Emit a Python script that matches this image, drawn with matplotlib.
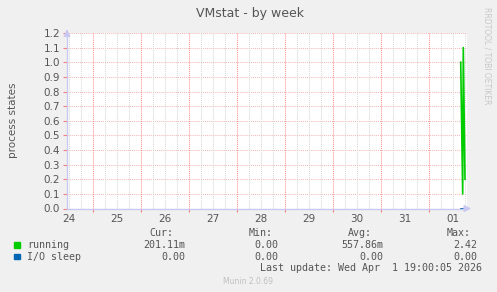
import matplotlib
matplotlib.use("Agg")
import matplotlib.pyplot as plt
import numpy as np

plt.rcParams["lines.scale_dashes"] = False

# donnees (heures depuis le 24 mars 00:00)
heures = [207.85, 208.85, 209.15, 210.0]
running = [1.0, 0.1, 1.1, 0.2]
io_sleep = [0.0, 0.0, 0.0, 0.0]
jours = ["24", "25", "26", "27", "28", "29", "30", "31", "01"]
yticks = [0.0, 0.1, 0.2, 0.3, 0.4, 0.5, 0.6, 0.7, 0.8, 0.9, 1.0, 1.1, 1.2]

legende = ["running", "I/O sleep"]
couleurs = ["#00cc00", "#0066b3"]
cur = ["201.11m", "0.00"]
mini = ["0.00", "0.00"]
avg = ["557.86m", "0.00"]
maxi = ["2.42", "0.00"]

W, H = 497, 292
xmin, xmax = 11.0, 211.0
gris = "#555555"
pointille = (0, (0.75, 0.75))

fig = plt.figure(figsize=(W/100, H/100), dpi=100, facecolor="#f0f0f0")
ax = fig.add_axes([67/W, (H-208.5)/H, 400/W, 175.5/H])
ax.set_facecolor("white")
ax.set_xlim(xmin, xmax)
ax.set_ylim(0, 1.2)

# grille
for y in yticks:
    ax.axhline(y, color="#f6b8b8", lw=0.75, ls=pointille, zorder=1)
for h in np.arange(12, xmax, 6):
    if h % 24 != 0:
        ax.axvline(h, color="#d6d6d6", lw=0.75, ls=pointille, zorder=1)
for h in np.arange(24, xmax, 24):
    ax.axvline(h, color="#ff9090", lw=0.75, ls=pointille, zorder=1)

# courbes
ax.plot(heures, io_sleep, color=couleurs[1], lw=1.2, zorder=3)
ax.plot(heures, running, color=couleurs[0], lw=1.2, zorder=4)

# axes
for s in ["top", "right"]:
    ax.spines[s].set_visible(False)
for s in ["left", "bottom"]:
    ax.spines[s].set_color("#c8c8f0")
    ax.spines[s].set_linewidth(1.0)
ax.annotate("", xy=(xmax + 3.5, 0), xytext=(xmax - 1, 0),
            arrowprops=dict(arrowstyle="-|>", color="#c8c8f0", lw=1), annotation_clip=False)
ax.annotate("", xy=(xmin, 1.245), xytext=(xmin, 1.19),
            arrowprops=dict(arrowstyle="-|>", color="#c8c8f0", lw=1), annotation_clip=False)

ax.set_yticks(yticks)
ax.set_yticklabels(["%.1f" % y for y in yticks])
ax.tick_params(axis="y", length=3, color="#f08080", labelsize=7.5, labelcolor=gris, pad=2)
ax.set_xticks(np.arange(24, xmax, 24))
ax.set_xticklabels([])
ax.tick_params(axis="x", length=2, color="#f08080")
for i, j in enumerate(jours):
    ax.text(12 + 24*i, -0.04, j, ha="center", va="top", fontsize=7.5, color=gris)

ax.set_ylabel("process states", fontsize=7.5, color=gris)
ax.yaxis.set_label_coords(-49/400, 0.5)

fig.text(250/W, 1 - 13/H, "VMstat - by week", ha="center", va="center", fontsize=9, color=gris)
fig.text(487/W, 1 - 56/H, "RRDTOOL / TOBI OETIKER", rotation=270, ha="center", va="center",
         fontsize=5.5, color="#c8c8c8")

# legende
mono = "DejaVu Sans Mono"
fs = 7.2
def txt(x, y, s, ha="left", c=gris):
    fig.text(x/W, 1 - y/H, s, ha=ha, va="center", fontsize=fs, family=mono, color=c)

txt(149, 233, "Cur:")
txt(249, 233, "Min:")
txt(348, 233, "Avg:")
txt(447, 233, "Max:")
for i, nom in enumerate(legende):
    y = 245 + 11.5*i
    fig.patches.append(plt.Rectangle((14/W, 1 - (y + 2.7)/H), 5.5/W, 5.5/H,
                                     transform=fig.transFigure, color=couleurs[i]))
    txt(27, y, nom)
    txt(185, y, cur[i], "right")
    txt(278, y, mini[i], "right")
    txt(383, y, avg[i], "right")
    txt(477, y, maxi[i], "right")
txt(482, 268, "Last update: Wed Apr  1 19:00:05 2026", "right")
fig.text(248/W, 1 - 282/H, "Munin 2.0.69", ha="center", va="center", fontsize=5.5, color="#c0c0c0")

fig.savefig("out.png", dpi=100, facecolor=fig.get_facecolor())
